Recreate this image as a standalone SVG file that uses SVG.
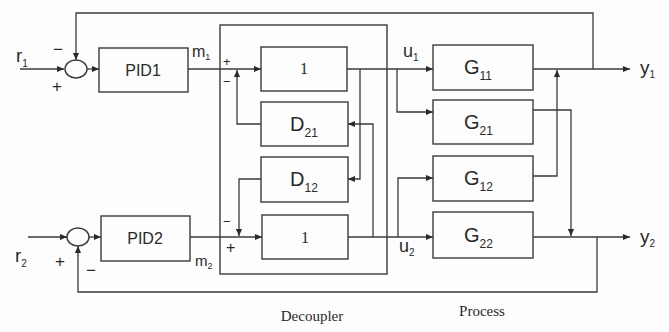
<svg xmlns="http://www.w3.org/2000/svg" width="669" height="332" viewBox="0 0 669 332">
<defs>
<marker id="ah" viewBox="0 0 8 8" refX="8" refY="4" markerWidth="7" markerHeight="7" markerUnits="userSpaceOnUse" orient="auto">
<path d="M0,0.5 L8,4 L0,7.5 Z" fill="#2a2a2a"/>
</marker>
</defs>
<style>
.bx{fill:none;stroke:#3a3a3a;stroke-width:1.4}
.ln{fill:none;stroke:#3a3a3a;stroke-width:1.3}
.sf{font-family:"Liberation Sans",Arial,sans-serif;fill:#2a2a2a}
.se{font-family:"Liberation Serif","Times New Roman",serif;fill:#2a2a2a}
.c{text-anchor:middle}
</style>
<rect width="669" height="332" fill="#fdfdfd"/>
<g id="connectors">
<path class="ln" d="M20,69 H64" marker-end="url(#ah)"/>
<path class="ln" d="M87,69 H99" marker-end="url(#ah)"/>
<path class="ln" d="M188,69 H261" marker-end="url(#ah)"/>
<path class="ln" d="M261,124 H237 V70" marker-end="url(#ah)"/>
<path class="ln" d="M347,69 H433" marker-end="url(#ah)"/>
<path class="ln" d="M360,69 V179 H348" marker-end="url(#ah)"/>
<path class="ln" d="M397,69 V112 H433" marker-end="url(#ah)"/>
<path class="ln" d="M28,237 H67" marker-end="url(#ah)"/>
<path class="ln" d="M89,237 H101" marker-end="url(#ah)"/>
<path class="ln" d="M190,237 H262" marker-end="url(#ah)"/>
<path class="ln" d="M261,179 H239 V236" marker-end="url(#ah)"/>
<path class="ln" d="M348,237 H433" marker-end="url(#ah)"/>
<path class="ln" d="M373,237 V124 H348" marker-end="url(#ah)"/>
<path class="ln" d="M398,237 V178 H433" marker-end="url(#ah)"/>
<path class="ln" d="M533,69 H630" marker-end="url(#ah)"/>
<path class="ln" d="M533,176 H557 V70" marker-end="url(#ah)"/>
<path class="ln" d="M533,110 H571 V236" marker-end="url(#ah)"/>
<path class="ln" d="M533,237 H630" marker-end="url(#ah)"/>
<path class="ln" d="M593,69 V13 H76 V60" marker-end="url(#ah)"/>
<path class="ln" d="M597,237 V292 H78 V246" marker-end="url(#ah)"/>
</g>
<g id="sum1"><ellipse class="bx" cx="76" cy="69" rx="11" ry="9"/></g>
<g id="sum2"><ellipse class="bx" cx="78" cy="237" rx="11" ry="9"/></g>
<g id="pid1"><rect class="bx" x="99" y="48" width="89" height="44"/><text class="sf c" x="143" y="76" font-size="16">PID1</text></g>
<g id="pid2"><rect class="bx" x="101" y="216" width="89" height="45"/><text class="sf c" x="145" y="244" font-size="16">PID2</text></g>
<g id="decoupler"><rect class="bx" x="220" y="25" width="167" height="249"/></g>
<g id="dec11"><rect class="bx" x="261" y="47" width="86" height="44"/><text class="se c" x="304" y="74" font-size="16">1</text></g>
<g id="d21"><rect class="bx" x="261" y="102" width="87" height="44"/><text class="sf" x="290" y="131" font-size="20">D<tspan font-size="12" dy="6">21</tspan></text></g>
<g id="d12"><rect class="bx" x="261" y="157" width="87" height="45"/><text class="sf" x="290" y="186" font-size="20">D<tspan font-size="12" dy="6">12</tspan></text></g>
<g id="dec22"><rect class="bx" x="262" y="215" width="86" height="44"/><text class="se c" x="305" y="243" font-size="16">1</text></g>
<g id="g11"><rect class="bx" x="433" y="45" width="100" height="45"/><text class="sf" x="464" y="74" font-size="20">G<tspan font-size="12" dy="6">11</tspan></text></g>
<g id="g21"><rect class="bx" x="433" y="100" width="100" height="44"/><text class="sf" x="464" y="129" font-size="20">G<tspan font-size="12" dy="6">21</tspan></text></g>
<g id="g12"><rect class="bx" x="433" y="156" width="100" height="45"/><text class="sf" x="464" y="185" font-size="20">G<tspan font-size="12" dy="6">12</tspan></text></g>
<g id="g22"><rect class="bx" x="433" y="212" width="100" height="46"/><text class="sf" x="464" y="242" font-size="20">G<tspan font-size="12" dy="6">22</tspan></text></g>
<g id="labels">
<text class="sf" x="16" y="62" font-size="19">r<tspan font-size="10" dy="5">1</tspan></text>
<text class="sf" x="53" y="55" font-size="17">−</text>
<text class="sf" x="52" y="92" font-size="17">+</text>
<text class="sf" x="192" y="57" font-size="16">m<tspan font-size="9" dy="3">1</tspan></text>
<text class="sf" x="223" y="66" font-size="13">+</text>
<text class="sf" x="223" y="86" font-size="13">−</text>
<text class="sf" x="403" y="57" font-size="18">u<tspan font-size="10" dy="4">1</tspan></text>
<text class="sf" x="640" y="74" font-size="19">y<tspan font-size="10" dy="4">1</tspan></text>
<text class="sf" x="15" y="262" font-size="19">r<tspan font-size="10" dy="5">2</tspan></text>
<text class="sf" x="55" y="267" font-size="17">+</text>
<text class="sf" x="86" y="276" font-size="17">−</text>
<text class="sf" x="195" y="266" font-size="15">m<tspan font-size="9" dy="3">2</tspan></text>
<text class="sf" x="223" y="226" font-size="13">−</text>
<text class="sf" x="226" y="253" font-size="16">+</text>
<text class="sf" x="399" y="252" font-size="18">u<tspan font-size="10" dy="4">2</tspan></text>
<text class="sf" x="640" y="243" font-size="19">y<tspan font-size="10" dy="4">2</tspan></text>
<text class="se c" x="312" y="321" font-size="15">Decoupler</text>
<text class="se c" x="482" y="316" font-size="15">Process</text>
</g>
</svg>
